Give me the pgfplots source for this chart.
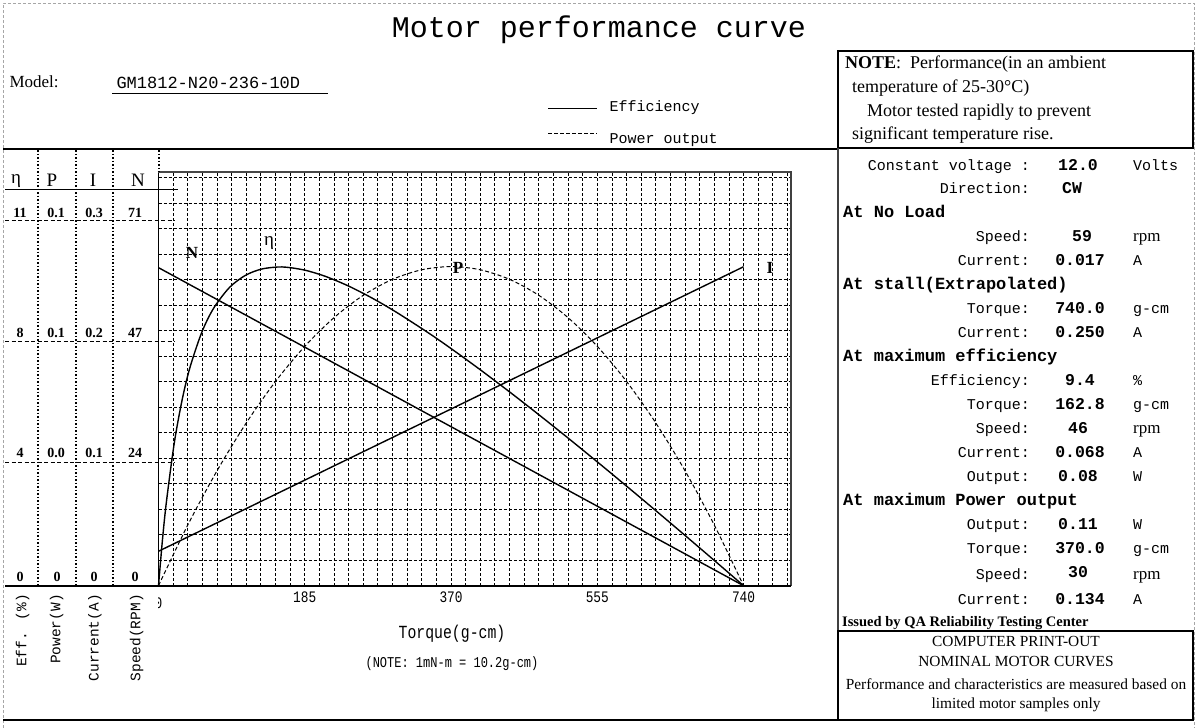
\documentclass[border=0pt]{standalone}
\usepackage{fontspec}
\setmainfont{Liberation Serif}
\newfontfamily\mono{Liberation Mono}
\newfontfamily\nmono[FakeStretch=0.8]{Liberation Mono}
\usepackage{pgfplots}
\pgfplotsset{compat=1.18}
\pgfplotsset{ov/.style={at={(158.5pt,-585.7pt)}, anchor=south west, scale only axis,
  width=632.5pt, height=414pt, xmin=0, xmax=800, ymin=0, hide axis, clip=false}}
\newcommand{\fs}[1]{\fontsize{#1}{#1}\selectfont}
\begin{document}
\begin{tikzpicture}[x=1pt,y=-1pt]
\useasboundingbox (0,0) rectangle (1200,728);
% page border
\draw[gray!70, dash pattern=on 3pt off 2pt, line width=0.8pt] (3,728) -- (3,3) -- (1194,3) -- (1194,728);
% grid axis
\begin{axis}[at={(158.5pt,-585.7pt)}, anchor=south west, scale only axis,
  width=632.5pt, height=414pt, xmin=0, xmax=800, ymin=0, ymax=414,
  xtick={185,370,555,740}, xticklabels={185,370,555,740},
  ytick={25.5,51,...,409}, yticklabels={},
  minor xtick={18.5,37,...,796},
  grid=both, grid style={black, line width=0.85pt, dash pattern=on 3pt off 2pt},
  major grid style={black, line width=0.85pt, dash pattern=on 3pt off 2pt},
  major tick length=0pt, minor tick length=0pt,
  axis line style={draw=none},
  xticklabel style={font=\nmono\fs{16}, yshift=-3pt}]
\end{axis}
% efficiency
\begin{axis}[ov, ymax=12.21]
\addplot[black, line width=1.4pt, smooth, tension=0.5] coordinates {
(0,0) (5,1.349) (10,2.471) (20,4.216) (30,5.493) (40,6.453) (55,7.488) (70,8.194)
(90,8.801) (110,9.154) (130,9.337) (150,9.398) (163,9.390) (185,9.307) (210,9.133)
(240,8.842) (270,8.485) (300,8.078) (340,7.478) (370,6.995) (410,6.317) (450,5.609)
(490,4.878) (530,4.129) (570,3.364) (610,2.587) (650,1.800) (690,1.005) (720,0.403) (740,0)};
\end{axis}
% power output
\begin{axis}[ov, ymax=0.1427]
\addplot[black, line width=1pt, dash pattern=on 4pt off 2.5pt, smooth] coordinates {
(0,0) (37,0.0209) (74,0.0396) (111,0.0561) (148,0.0704) (185,0.0825) (222,0.0924)
(259,0.1001) (296,0.1056) (333,0.1089) (370,0.1100) (407,0.1089) (444,0.1056)
(481,0.1001) (518,0.0924) (555,0.0825) (592,0.0704) (629,0.0561) (666,0.0396)
(703,0.0209) (740,0)};
\end{axis}
% speed
\begin{axis}[ov, ymax=76.8]
\addplot[black, line width=1.4pt] coordinates {(0,59) (740,0)};
\end{axis}
% current
\begin{axis}[ov, ymax=0.3245]
\addplot[black, line width=1.4pt] coordinates {(0,0.027) (740,0.25)};
\end{axis}
% plot frame
\draw[line width=1.5pt] (158.5,172) -- (158.5,585.7);
\draw[line width=2.5pt, gray!55!black] (157.5,172) -- (791,172);
\draw[line width=1.2pt, gray!50!black] (791,171) -- (791,585.7);
\draw[line width=1.6pt] (5,585.7) -- (791,585.7);
\begin{scope}
\clip (158.5,590) rectangle (175,615);
\node[font=\nmono\fs{16}] at (158.5,603) {0};
\end{scope}
% curve labels
\node[font=\bfseries\fs{17}] at (192,253) {N};
\node[font=\fs{19}] at (269,243) {η};
\node[font=\bfseries\fs{17}] at (458,268) {P};
\node[font=\bfseries\fs{17}] at (770,268) {I};
% axis titles
\node[font=\nmono\fs{18.5}] at (452,634) {Torque(g-cm)};
\node[font=\nmono\fs{15}] at (452,664) {(NOTE: 1mN-m = 10.2g-cm)};
% left panel
\draw[line width=1.6pt] (3,149) -- (838,149);
\draw[line width=1pt] (5,189) -- (178,189);
\foreach \yy in {220,341,462}
  \draw[line width=1pt, dash pattern=on 4pt off 2.5pt] (5,\yy) -- (175,\yy);
\foreach \xx in {38,76,113}
  \draw[line width=1.1pt, dash pattern=on 1.5pt off 2pt] (\xx,150) -- (\xx,585);
\draw[line width=1.1pt, dash pattern=on 1.5pt off 2pt] (159,150) -- (159,172);
\node[font=\fs{19}] at (16,181) {η};
\node[font=\fs{19}] at (52,180) {P};
\node[font=\fs{19}] at (93,180) {I};
\node[font=\fs{19}] at (138,180) {N};
\begin{scope}[every node/.style={font=\bfseries\fs{14}}]
\node at (20,213) {11}; \node at (56,213) {0.1}; \node at (94,213) {0.3}; \node at (135,213) {71};
\node at (20,333) {8};  \node at (56,333) {0.1}; \node at (94,333) {0.2}; \node at (135,333) {47};
\node at (20,453) {4};  \node at (56,453) {0.0}; \node at (94,453) {0.1}; \node at (135,453) {24};
\node at (20,577) {0};  \node at (57,577) {0};   \node at (94,577) {0};   \node at (135,577) {0};
\end{scope}
\begin{scope}[every node/.style={font=\mono\fs{14.5}, rotate=90, anchor=east, inner sep=0pt}]
\node at (22.7,594) {Eff. (\%)};
\node at (56.7,594) {Power(W)};
\node at (95,594) {Current(A)};
\node at (136.7,594) {Speed(RPM)};
\end{scope}
% header
\node[font=\mono\fs{30}] at (599,30) {Motor performance curve};
\node[font=\fs{17}, anchor=west] at (6,82) {Model:};
\node[font=\mono\fs{17}, anchor=west] at (113,83) {GM1812-N20-236-10D};
\draw[line width=1pt] (112,93) -- (328,93);
\draw[line width=1pt] (548,108) -- (597,108);
\node[font=\mono\fs{15}, anchor=west] at (606,108) {Efficiency};
\draw[line width=1pt, dash pattern=on 4pt off 2pt] (548,133) -- (597,133);
\node[font=\mono\fs{15}, anchor=west] at (606,140) {Power output};
% note box
\draw[line width=1.2pt] (838,51) rectangle (1193,148);
\begin{scope}[every node/.style={font=\fs{18}, anchor=west, inner sep=0pt}]
\node at (845,64) {\textbf{NOTE}:\ \ Performance(in an ambient};
\node at (852,88) {temperature of 25-30°C)};
\node at (867,112) {Motor tested rapidly to prevent};
\node at (852,135) {significant temperature rise.};
\end{scope}
% right panel
\draw[line width=1.5pt, gray!50!black] (838,148) -- (838,631);
\begin{scope}[inner sep=0pt]
\node[font=\mono\fs{15}, anchor=base east] at (1030,170) {Constant voltage :};
\node[font=\mono\bfseries\fs{16.5}, anchor=base] at (1078,170) {12.0};
\node[font=\mono\fs{15}, anchor=base west] at (1133,170) {Volts};
\node[font=\mono\fs{15}, anchor=base east] at (1030,193) {Direction:};
\node[font=\mono\bfseries\fs{16.5}, anchor=base] at (1072,193) {CW};
\node[font=\mono\bfseries\fs{17}, anchor=base west] at (843,217) {At No Load};
\node[font=\mono\fs{15}, anchor=base east] at (1030,241) {Speed:};
\node[font=\mono\bfseries\fs{16.5}, anchor=base] at (1082,241) {59};
\node[font=\fs{17}, anchor=base west] at (1133,241) {rpm};
\node[font=\mono\fs{15}, anchor=base east] at (1030,265) {Current:};
\node[font=\mono\bfseries\fs{16.5}, anchor=base] at (1080,265) {0.017};
\node[font=\mono\fs{15}, anchor=base west] at (1133,265) {A};
\node[font=\mono\bfseries\fs{17}, anchor=base west] at (843,289) {At stall(Extrapolated)};
\node[font=\mono\fs{15}, anchor=base east] at (1030,313) {Torque:};
\node[font=\mono\bfseries\fs{16.5}, anchor=base] at (1080,313) {740.0};
\node[font=\mono\fs{15}, anchor=base west] at (1133,313) {g-cm};
\node[font=\mono\fs{15}, anchor=base east] at (1030,337) {Current:};
\node[font=\mono\bfseries\fs{16.5}, anchor=base] at (1080,337) {0.250};
\node[font=\mono\fs{15}, anchor=base west] at (1133,337) {A};
\node[font=\mono\bfseries\fs{17}, anchor=base west] at (843,361) {At maximum efficiency};
\node[font=\mono\fs{15}, anchor=base east] at (1030,385) {Efficiency:};
\node[font=\mono\bfseries\fs{16.5}, anchor=base] at (1080,385) {9.4};
\node[font=\mono\fs{15}, anchor=base west] at (1133,385) {\%};
\node[font=\mono\fs{15}, anchor=base east] at (1030,409) {Torque:};
\node[font=\mono\bfseries\fs{16.5}, anchor=base] at (1080,409) {162.8};
\node[font=\mono\fs{15}, anchor=base west] at (1133,409) {g-cm};
\node[font=\mono\fs{15}, anchor=base east] at (1030,433) {Speed:};
\node[font=\mono\bfseries\fs{16.5}, anchor=base] at (1078,433) {46};
\node[font=\fs{17}, anchor=base west] at (1133,433) {rpm};
\node[font=\mono\fs{15}, anchor=base east] at (1030,457) {Current:};
\node[font=\mono\bfseries\fs{16.5}, anchor=base] at (1080,457) {0.068};
\node[font=\mono\fs{15}, anchor=base west] at (1133,457) {A};
\node[font=\mono\fs{15}, anchor=base east] at (1030,481) {Output:};
\node[font=\mono\bfseries\fs{16.5}, anchor=base] at (1078,481) {0.08};
\node[font=\mono\fs{15}, anchor=base west] at (1133,481) {W};
\node[font=\mono\bfseries\fs{17}, anchor=base west] at (843,505) {At maximum Power output};
\node[font=\mono\fs{15}, anchor=base east] at (1030,529) {Output:};
\node[font=\mono\bfseries\fs{16.5}, anchor=base] at (1078,529) {0.11};
\node[font=\mono\fs{15}, anchor=base west] at (1133,529) {W};
\node[font=\mono\fs{15}, anchor=base east] at (1030,553) {Torque:};
\node[font=\mono\bfseries\fs{16.5}, anchor=base] at (1080,553) {370.0};
\node[font=\mono\fs{15}, anchor=base west] at (1133,553) {g-cm};
\node[font=\mono\fs{15}, anchor=base east] at (1030,579) {Speed:};
\node[font=\mono\bfseries\fs{16.5}, anchor=base] at (1078,577) {30};
\node[font=\fs{17}, anchor=base west] at (1133,579) {rpm};
\node[font=\mono\fs{15}, anchor=base east] at (1030,604) {Current:};
\node[font=\mono\bfseries\fs{16.5}, anchor=base] at (1080,604) {0.134};
\node[font=\mono\fs{15}, anchor=base west] at (1133,604) {A};
\node[font=\bfseries\fs{14.5}, anchor=base west] at (842,626) {Issued by QA Reliability Testing Center};
\end{scope}
\draw[line width=1.2pt] (838,631) rectangle (1193,720);
\draw[line width=1.2pt] (3,720) -- (838,720);
\begin{scope}[every node/.style={font=\fs{15.4}, inner sep=0pt}]
\node at (1016,641) {COMPUTER PRINT-OUT};
\node at (1016,662) {NOMINAL MOTOR CURVES};
\node at (1016,684) {Performance and characteristics are measured based on};
\node at (1016,705) {limited motor samples only};
\end{scope}
\end{tikzpicture}
\end{document}
